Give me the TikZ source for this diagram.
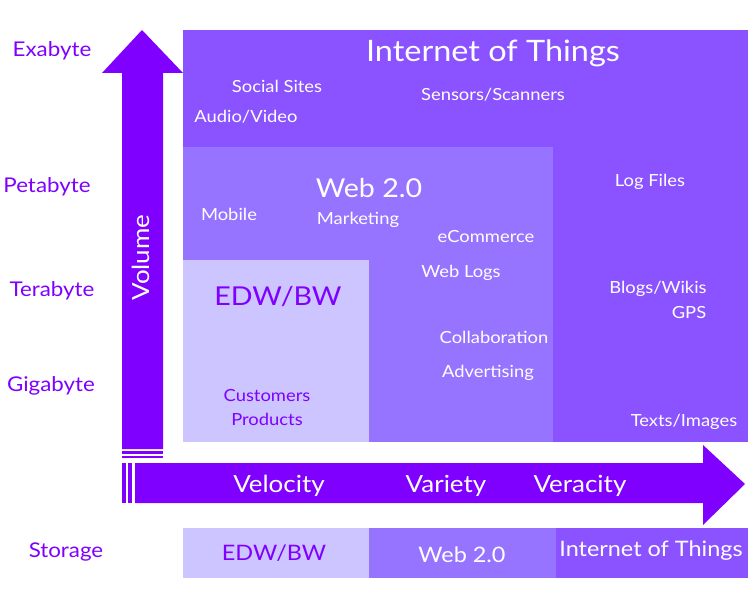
\documentclass[tikz,border=0pt]{standalone}
\usepackage{fontspec}
\setmainfont{Lato}[FakeStretch=1.1]
\definecolor{arrowc}{RGB}{127,0,255}
\definecolor{iotc}{RGB}{139,82,255}
\definecolor{webc}{RGB}{150,116,255}
\definecolor{edwc}{RGB}{205,197,255}
\definecolor{labc}{RGB}{127,0,255}
\tikzset{
  txt/.style={inner sep=0pt,anchor=center,yshift=-1.5pt},
  lbl/.style={txt,text=white,font=\fontsize{16.7}{18}\selectfont},
  edwlbl/.style={txt,text=labc,font=\fontsize{16.7}{18}\selectfont},
  axlbl/.style={txt,text=labc,font=\fontsize{20.3}{22}\selectfont},
  vlbl/.style={txt,text=white,font=\fontsize{23.6}{26}\selectfont},
  title/.style={txt,text=white,font=\fontsize{29.5}{32}\selectfont},
  midtitle/.style={font=\fontsize{26}{28}\selectfont},
  barlbl/.style={font=\fontsize{21.3}{23}\selectfont}
}
\begin{document}
\begin{tikzpicture}[x=1pt,y=-1pt]
\useasboundingbox (0,0) rectangle (752,609);
% boxes
\fill[iotc] (183,30) rectangle (748,442);
\fill[webc] (183,147) rectangle (553,442);
\fill[edwc] (183,260) rectangle (369,442);
% storage bar
\fill[edwc] (183,528) rectangle (369,578);
\fill[webc] (369,528) rectangle (556,578);
\fill[iotc] (556,528) rectangle (748,578);
% vertical arrow
\fill[arrowc] (122,449) -- (122,73) -- (102,73) -- (142,30) -- (183,73) -- (163,73) -- (163,449) -- cycle;
\fill[arrowc] (122,451) rectangle (163,454);
\fill[arrowc] (122,456) rectangle (163,458);
% horizontal arrow
\fill[arrowc] (135,463) -- (703,463) -- (703,445) -- (745,484) -- (703,525) -- (703,503) -- (135,503) -- cycle;
\fill[arrowc] (122,463) rectangle (126,503);
\fill[arrowc] (128,463) rectangle (132,503);
% IoT texts
\node[title] (iot) at (493,52) {Internet of Things};
\node[lbl] (social) at (277,85) {Social Sites};
\node[lbl] (audio) at (246,115) {Audio/Video};
\node[lbl] (sensors) at (493,93) {Sensors/Scanners};
\node[lbl] (logs) at (650,180) {Log Files};
\node[lbl] (blogs) at (658,287) {Blogs/Wikis};
\node[lbl] (gps) at (689,311) {GPS};
\node[lbl] (texts) at (684,420) {Texts/Images};
% Web 2.0 texts
\node[title,midtitle] (web) at (369,187) {Web 2.0};
\node[lbl] (mobile) at (229,213) {Mobile};
\node[lbl] (mkt) at (358,218) {Marketing};
\node[lbl] (ecom) at (486,235) {eCommerce};
\node[lbl] (weblogs) at (461,271) {Web Logs};
\node[lbl] (collab) at (494,336) {Collaboration};
\node[lbl] (adv) at (488,371) {Advertising};
% EDW texts
\node[edwlbl,midtitle] (edw) at (278,295) {EDW/BW};
\node[edwlbl] (cust) at (267,394) {Customers};
\node[edwlbl] (prod) at (267,418) {Products};
% axes
\node[vlbl,rotate=90,yshift=1.5pt,xshift=-1pt] (vol) at (142,255) {Volume};
\node[vlbl] (velo) at (279,484) {Velocity};
\node[vlbl] (vari) at (446,484) {Variety};
\node[vlbl] (vera) at (580,484) {Veracity};
% storage bar texts
\node[edwlbl,barlbl] (sedw) at (274,552) {EDW/BW};
\node[lbl,barlbl] (sweb) at (462,553) {Web 2.0};
\node[lbl,barlbl] (siot) at (651,549) {Internet of Things};
% left labels
\node[axlbl] (exa) at (52,49) {Exabyte};
\node[axlbl] (peta) at (47,185) {Petabyte};
\node[axlbl] (tera) at (52,289) {Terabyte};
\node[axlbl] (giga) at (51,384) {Gigabyte};
\node[axlbl] (stor) at (66,550) {Storage};
\end{tikzpicture}
\end{document}
